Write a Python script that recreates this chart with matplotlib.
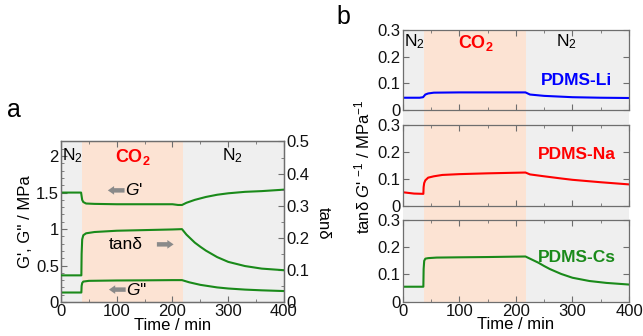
import matplotlib
matplotlib.use("Agg")
import matplotlib.pyplot as plt
from matplotlib.ticker import MultipleLocator

plt.rcParams['font.family'] = ['Liberation Sans', 'DejaVu Sans']
plt.rcParams['mathtext.fontset'] = 'custom'
plt.rcParams['mathtext.rm'] = 'Liberation Sans'
plt.rcParams['mathtext.it'] = 'Liberation Sans:italic'
plt.rcParams['mathtext.bf'] = 'Liberation Sans:bold'

# ---------------- data ----------------
co2_start, co2_end = 37, 218

# panel a
t_gp = [0, 36, 37, 38, 40, 45, 60, 100, 150, 200, 210, 217, 225, 240, 260, 280, 300, 330, 360, 400]
gp   = [1.50, 1.50, 1.45, 1.40, 1.37, 1.35, 1.345, 1.34, 1.34, 1.34, 1.33, 1.33, 1.36, 1.40, 1.44, 1.47, 1.49, 1.51, 1.52, 1.54]

t_tan = [0, 36.5, 37, 38, 40, 45, 60, 100, 150, 200, 217, 225, 240, 250, 260, 280, 300, 330, 360, 400]
tand  = [0.083, 0.083, 0.15, 0.195, 0.208, 0.214, 0.218, 0.222, 0.224, 0.226, 0.227, 0.21, 0.185, 0.172, 0.16, 0.14, 0.125, 0.112, 0.104, 0.099]

t_gpp = [0, 36.5, 37, 38, 40, 50, 100, 150, 200, 217, 230, 250, 280, 300, 330, 360, 400]
gpp   = [0.13, 0.13, 0.22, 0.26, 0.28, 0.29, 0.295, 0.297, 0.30, 0.30, 0.27, 0.235, 0.20, 0.185, 0.17, 0.16, 0.15]

# panel b
t_li = [0, 30, 36, 40, 45, 55, 100, 150, 217, 225, 250, 300, 350, 400]
li   = [0.046, 0.046, 0.048, 0.058, 0.062, 0.065, 0.066, 0.066, 0.066, 0.058, 0.053, 0.048, 0.046, 0.045]

t_na = [0, 20, 36.5, 37, 38, 40, 45, 55, 70, 100, 150, 217, 225, 250, 280, 300, 350, 400]
na   = [0.051, 0.046, 0.045, 0.07, 0.085, 0.095, 0.105, 0.11, 0.115, 0.118, 0.121, 0.124, 0.117, 0.11, 0.102, 0.097, 0.088, 0.08]

t_cs = [0, 36.5, 37, 38, 40, 45, 60, 100, 150, 217, 225, 240, 250, 260, 280, 300, 330, 360, 400]
cs   = [0.055, 0.055, 0.12, 0.15, 0.158, 0.16, 0.162, 0.163, 0.164, 0.166, 0.158, 0.143, 0.131, 0.12, 0.102, 0.088, 0.076, 0.069, 0.063]

sample_names = ['PDMS-Li', 'PDMS-Na', 'PDMS-Cs']

# ---------------- style ----------------
GREEN = '#1a8a1a'
GRAY_BG = '#efefef'
PEACH = '#fce3d3'
SPINE = '#6e6e6e'
ARROW = '#8a8a8a'
FS = 12

W, H = 643, 336
fig = plt.figure(figsize=(W / 100, H / 100), dpi=100)

def rect(l, t, r, b):
    return [l / W, 1 - b / H, (r - l) / W, (b - t) / H]

def shade(ax):
    ax.axvspan(0, co2_start, color=GRAY_BG, lw=0, zorder=0)
    ax.axvspan(co2_start, co2_end, color=PEACH, lw=0, zorder=0)
    ax.axvspan(co2_end, 400, color=GRAY_BG, lw=0, zorder=0)

def style(ax):
    for s in ax.spines.values():
        s.set_color(SPINE)
        s.set_linewidth(0.9)
    ax.tick_params(direction='in', which='both', colors=SPINE, labelcolor='#111111',
                   labelsize=FS, top=True, pad=1.5)
    ax.tick_params(which='major', length=4)
    ax.tick_params(which='minor', length=2)

# ---------------- panel a ----------------
axa = fig.add_axes(rect(61, 141.5, 284, 302))
shade(axa)
axa.plot(t_gp, gp, color=GREEN, lw=1.5, zorder=3)
axa.plot(t_gpp, gpp, color=GREEN, lw=1.5, zorder=3)
axa.set_xlim(0, 400)
axa.set_ylim(0, 2.2)
axa.xaxis.set_major_locator(MultipleLocator(100))
axa.xaxis.set_minor_locator(MultipleLocator(50))
axa.yaxis.set_minor_locator(MultipleLocator(0.1))
axa.set_yticks([0, 0.5, 1, 1.5, 2])
axa.set_yticklabels(['0', '0.5', '1', '1.5', '2'])
style(axa)
axa.tick_params(right=False)
axa.set_xlabel('Time / min', fontsize=FS, labelpad=-1)
axa.set_ylabel("G', G'' / MPa", fontsize=FS, labelpad=2)

axa2 = axa.twinx()
axa2.plot(t_tan, tand, color=GREEN, lw=1.5, zorder=3)
axa2.set_ylim(0, 0.5)
axa2.yaxis.set_minor_locator(MultipleLocator(0.05))
axa2.set_yticks([0, 0.1, 0.2, 0.3, 0.4, 0.5])
axa2.set_yticklabels(['0', '0.1', '0.2', '0.3', '0.4', '0.5'])
style(axa2)
axa2.tick_params(left=False, right=True, labelright=True, labelleft=False)
fig.text(323 / W, 1 - 223 / H, 'tanδ', fontsize=FS, rotation=270, va='center', ha='center')

# annotations panel a
axa.text(2, 2.13, 'N$_2$', fontsize=FS + 0.5, va='top', ha='left', zorder=5)
axa.text(128, 2.13, r'$\mathbf{CO_2}$', fontsize=FS + 1, color='red', va='top', ha='center', zorder=5)
axa.text(308, 2.13, 'N$_2$', fontsize=FS + 0.5, va='top', ha='center', zorder=5)

arrow_kw = dict(arrowstyle='simple,head_width=0.62,head_length=0.45,tail_width=0.32',
                color=ARROW, lw=0, shrinkA=0, shrinkB=0)
axa.annotate('', xy=(84, 1.53), xytext=(114, 1.53), arrowprops=arrow_kw, zorder=5)
axa.text(115, 1.53, "$\\mathit{G}$'", fontsize=FS + 0.5, va='center', ha='left', zorder=5)
axa.text(116, 0.79, 'tanδ', fontsize=FS + 0.5, va='center', ha='center', zorder=5)
axa.annotate('', xy=(202, 0.79), xytext=(172, 0.79), arrowprops=arrow_kw, zorder=5)
axa.annotate('', xy=(86, 0.17), xytext=(116, 0.17), arrowprops=arrow_kw, zorder=5)
axa.text(117, 0.17, "$\\mathit{G}$''", fontsize=FS + 0.5, va='center', ha='left', zorder=5)

fig.text(14 / W, 1 - 110 / H, 'a', fontsize=18, va='center', ha='center')

# ---------------- panel b ----------------
bl, br = 402.7, 629
bg = fig.add_axes(rect(bl, 30, br, 301.7))
shade(bg)
bg.set_xlim(0, 400)
bg.set_ylim(0, 1)
bg.axis('off')
bg.set_zorder(0)

panels = [(30, 110, (0, 0.3)), (125, 206, (0, 0.3)), (220, 301.7, (0, 0.3))]
series = [(t_li, li, 'blue'), (t_na, na, 'red'), (t_cs, cs, GREEN)]
label_y = [0.11, 0.19, 0.1625]
axes_b = []
for i, ((top, bot, yl), (tt, vv, col)) in enumerate(zip(panels, series)):
    ax = fig.add_axes(rect(bl, top, br, bot))
    ax.patch.set_alpha(0)
    ax.set_zorder(2)
    ax.plot(tt, vv, color=col, lw=1.5)
    ax.set_xlim(0, 400)
    ax.set_ylim(*yl)
    ax.xaxis.set_major_locator(MultipleLocator(100))
    ax.xaxis.set_minor_locator(MultipleLocator(50))
    ax.set_yticks([0, 0.1, 0.2, 0.3])
    ax.set_yticklabels(['0', '0.1', '0.2', '0.3'])
    style(ax)
    ax.tick_params(right=True)
    if i < 2:
        ax.tick_params(labelbottom=False)
    ax.text(307, label_y[i], sample_names[i], color=col, fontsize=FS + 0.5,
            fontweight='bold', ha='center', va='center')
    axes_b.append(ax)

axes_b[-1].set_xlabel('Time / min', fontsize=FS, labelpad=-1)
axes_b[0].text(2, 0.29, 'N$_2$', fontsize=FS + 0.5, va='top', ha='left')
axes_b[0].text(129, 0.29, r'$\mathbf{CO_2}$', fontsize=FS + 1, color='red', va='top', ha='center')
axes_b[0].text(290, 0.29, 'N$_2$', fontsize=FS + 0.5, va='top', ha='center')

fig.text(362 / W, 1 - 167 / H, "tanδ $\\mathit{G}$' $^{-1}$ / MPa$^{-1}$", fontsize=FS,
         rotation=90, va='center', ha='center')
fig.text(343 / W, 1 - 17 / H, 'b', fontsize=18, va='center', ha='center')

fig.savefig('out.png', dpi=100)
